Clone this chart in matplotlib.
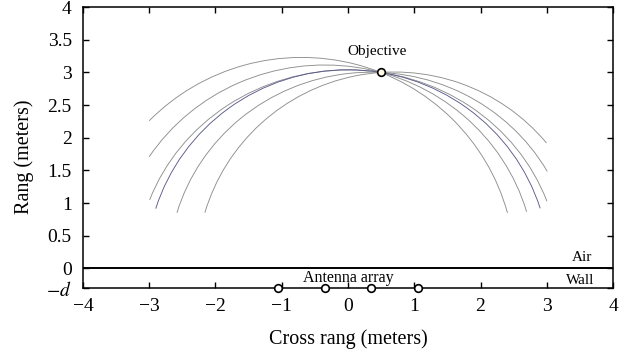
"""
    Through-wall imaging geometry: focusing arcs of the antenna pairs
    crossing at the objective
"""
import matplotlib
matplotlib.use("Agg")
import matplotlib.pyplot as plt
from matplotlib.patches import Arc

plt.rcParams['font.family'] = 'Liberation Serif'
plt.rcParams['mathtext.fontset'] = 'stix'

# wall depth below the air/wall interface
d = 0.3

# antenna positions (cross range) and objective
antenna_x = [-1.05, -0.35, 0.35, 1.05]
objective = (0.5, 3.0)

# one arc per antenna pair: centre, semi-axes, angular extent (degrees)
arc_cx = [-0.70, -0.35, 0.0, 0.0, 0.35, 0.70]
arc_cy = [0.0, 0.0, 0.0, 0.0, 0.0, 0.0]
arc_a = [3.22, 3.171, 3.19, 3.043, 3.057, 2.983]
arc_b = [3.23, 3.114, 3.0375, 3.041, 3.0036, 3.0067]
arc_theta1 = [15.3, 15.9, 18.9, 17.6, 29.2, 39.9]
arc_theta2 = [135.5, 147.2, 160.7, 162.5, 163.8, 163.4]
arc_color = ['#8e8e8e', '#8e8e8e', '#8e8e8e', '#5a5a8c', '#8e8e8e', '#8e8e8e']

xticks = [-4, -3, -2, -1, 0, 1, 2, 3, 4]
xticklabels = ['\u22124', '\u22123', '\u22122', '\u22121', '0', '1', '2', '3', '4']
yticks = [-d, 0, 0.5, 1, 1.5, 2, 2.5, 3, 3.5, 4]
yticklabels = ['$-d$', '0', '0.5', '1', '1.5', '2', '2.5', '3', '3.5', '4']

fig = plt.figure(figsize=(6.32, 3.56), dpi=100)
ax = fig.add_axes([0.1313, 0.191, 0.8387, 0.789])

for i in range(len(arc_cx)):
    ax.add_patch(Arc((arc_cx[i], arc_cy[i]), 2 * arc_a[i], 2 * arc_b[i],
                     theta1=arc_theta1[i], theta2=arc_theta2[i],
                     color=arc_color[i], lw=0.65))

# air / wall interface
ax.axhline(0, color='black', lw=1.4)

ax.plot(antenna_x, [-d] * len(antenna_x), 'o', ms=5.5, mfc='white',
        mec='black', mew=1.2, clip_on=False, zorder=5)
ax.plot([objective[0]], [objective[1]], 'o', ms=5.5, mfc='#fffbe8',
        mec='black', mew=1.2, zorder=5)

ax.text(0.44, 3.32, 'Objective', ha='center', va='center', fontsize=11)
ax.text(0.0, -0.15, 'Antenna array', ha='center', va='center', fontsize=11.5)
ax.text(3.53, 0.17, 'Air', ha='center', va='center', fontsize=11)
ax.text(3.51, -0.19, 'Wall', ha='center', va='center', fontsize=11)

ax.set_xlim(-4, 4)
ax.set_ylim(-d, 4)
ax.set_xticks(xticks)
ax.set_xticklabels(xticklabels)
ax.set_yticks(yticks)
ax.set_yticklabels(yticklabels)
ax.tick_params(direction='in', length=4, width=1, top=True, right=True,
               labelsize=14)
ax.tick_params(axis='x', pad=7)
ax.tick_params(axis='y', pad=8)
for s in ax.spines.values():
    s.set_linewidth(1.1)

ax.set_xlabel('Cross rang (meters)', fontsize=14.5)
ax.set_ylabel('Rang (meters)', fontsize=14.5)
ax.yaxis.set_label_coords(-0.092, 0.468)
ax.xaxis.set_label_coords(0.5, -0.148)

fig.savefig('out.png', dpi=100)
